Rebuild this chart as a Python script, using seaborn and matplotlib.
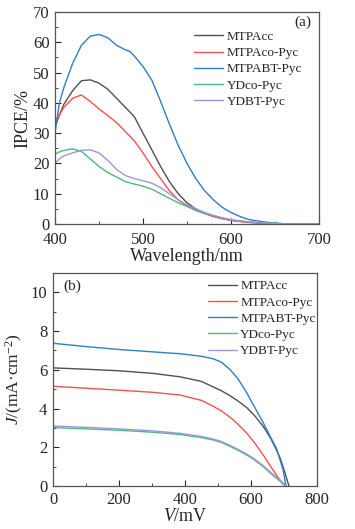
import numpy as np
import pandas as pd
import seaborn as sns
import matplotlib.pyplot as plt
from matplotlib.ticker import MultipleLocator

names = ['MTPAcc', 'MTPAco-Pyc', 'MTPABT-Pyc', 'YDco-Pyc', 'YDBT-Pyc']
colors = ['#505050', '#f0524f', '#2e7fc6', '#4cbb7a', '#a095d6']

# (a) IPCE spectra
wl = [400, 405, 410, 420, 430, 440, 450, 460, 470, 480, 485, 490, 500, 510, 520, 530, 540,
      550, 560, 570, 580, 590, 600, 610, 620, 630, 640, 650, 660, 670, 680, 690, 700]
ipce_mtpacc = [32, 36, 39.5, 44, 47.3, 47.6, 46.5, 44.5, 41.5, 38.5, 37, 35.5, 30, 24.5, 19, 14, 10,
               7, 5, 3.5, 2.5, 1.8, 1.2, 0.9, 0.6, 0.4, 0.2, 0.1, 0.05, 0, 0, 0, 0]
ipce_mtpaco = [33, 36, 38.5, 41.5, 42.6, 40.5, 38, 35.8, 33.5, 30.5, 29, 27.5, 23.5, 19, 15, 11, 8,
               6, 4.5, 3.5, 2.5, 1.8, 1.2, 0.8, 0.5, 0.3, 0.2, 0.1, 0, 0, 0, 0, 0]
ipce_mtpabt = [30, 40, 45, 53, 59, 62, 62.6, 61.5, 59, 57.5, 57, 55.5, 52, 47.5, 40.5, 33, 26,
               20, 15, 11, 8, 5.5, 3.8, 2.5, 1.5, 1, 0.6, 0.3, 0.1, 0, 0, 0, 0]
ipce_ydco = [23, 23.8, 24.3, 24.8, 24, 21.5, 19, 17, 15.5, 14, 13.6, 13.2, 12.5, 11.5, 10, 8.5, 7,
             5.8, 4.5, 3.5, 2.8, 2, 1.4, 1, 0.7, 0.5, 0.3, 0.2, 0.1, 0, 0, 0, 0]
ipce_ydbt = [20, 21.5, 22.5, 23.5, 24.3, 24.5, 23.5, 21, 18, 16, 15.5, 15, 14.3, 13.5, 12, 10, 8,
             6.3, 5, 3.8, 2.8, 2, 1.4, 1, 0.7, 0.5, 0.3, 0.2, 0.1, 0, 0, 0, 0]

# (b) J-V curves
v = [0, 100, 200, 300, 385, 450, 485, 510, 536, 560, 587, 610, 637, 660, 677, 688, 697, 706, 715]
j_mtpacc = [6.1, 6.03, 5.95, 5.82, 5.64, 5.4, 5.12, 4.92, 4.67, 4.4, 4.05, 3.65, 3.08, 2.45, 1.87, 1.45, 1.0, 0.5, 0]
j_mtpaco = [5.15, 5.05, 4.95, 4.84, 4.7, 4.42, 4.12, 3.88, 3.56, 3.2, 2.73, 2.25, 1.6, 1.0, 0.57, 0.3, 0.1, 0, np.nan]
j_mtpabt = [7.37, 7.2, 7.05, 6.93, 6.83, 6.7, 6.57, 6.4, 6.02, 5.55, 4.82, 4.1, 3.27, 2.5, 1.95, 1.35, 0.85, 0, np.nan]
j_ydco = [3.02, 2.95, 2.88, 2.78, 2.66, 2.5, 2.38, 2.25, 2.05, 1.85, 1.6, 1.35, 1.0, 0.65, 0.4, 0.25, 0.12, 0, np.nan]
j_ydbt = [3.1, 3.03, 2.95, 2.85, 2.72, 2.56, 2.43, 2.3, 2.1, 1.9, 1.65, 1.4, 1.05, 0.7, 0.45, 0.3, 0.15, 0, np.nan]

df_a = pd.DataFrame({'x': wl * 5,
                     'y': ipce_mtpacc + ipce_mtpaco + ipce_mtpabt + ipce_ydco + ipce_ydbt,
                     'dye': np.repeat(names, len(wl))})
df_b = pd.DataFrame({'x': v * 5,
                     'y': j_mtpacc + j_mtpaco + j_mtpabt + j_ydco + j_ydbt,
                     'dye': np.repeat(names, len(v))}).dropna()

sns.set_style('ticks')
plt.rcParams['font.family'] = ['Liberation Serif', 'DejaVu Serif']
plt.rcParams['mathtext.fontset'] = 'custom'
plt.rcParams['mathtext.it'] = 'Liberation Serif:italic'
plt.rcParams['mathtext.rm'] = 'Liberation Serif'
plt.rcParams['xtick.direction'] = 'in'
plt.rcParams['ytick.direction'] = 'in'

fig = plt.figure(figsize=(3.55, 5.29), dpi=100)
ax1 = fig.add_axes([55 / 355, 1 - 224 / 529, 264 / 355, 212 / 529])
ax2 = fig.add_axes([53 / 355, 1 - 486 / 529, 264 / 355, 213 / 529])
pal = dict(zip(names, colors))

sns.lineplot(data=df_a, x='x', y='y', hue='dye', palette=pal, ax=ax1, lw=1.0)
sns.lineplot(data=df_b, x='x', y='y', hue='dye', palette=pal, ax=ax2, lw=1.0)

ax1.set_xlim(400, 700)
ax1.set_ylim(0, 70)
ax1.xaxis.set_major_locator(MultipleLocator(100))
ax1.xaxis.set_minor_locator(MultipleLocator(50))
ax1.yaxis.set_major_locator(MultipleLocator(10))
ax1.yaxis.set_minor_locator(MultipleLocator(5))
ax1.set_xlabel('Wavelength/nm', fontsize=13, labelpad=0)
ax1.set_ylabel('IPCE/%', fontsize=13, labelpad=1)
ax1.text(0.97, 0.985, '(a)', transform=ax1.transAxes, ha='right', va='top', fontsize=11)

ax2.set_xlim(0, 800)
ax2.set_ylim(0, 11)
ax2.xaxis.set_major_locator(MultipleLocator(200))
ax2.xaxis.set_minor_locator(MultipleLocator(100))
ax2.yaxis.set_major_locator(MultipleLocator(2))
ax2.yaxis.set_minor_locator(MultipleLocator(1))
ax2.set_xlabel('$V$/mV', fontsize=13, labelpad=0)
ax2.set_ylabel('$J$/(mA·cm$^{-2}$)', fontsize=12.5, labelpad=4)
ax2.text(0.04, 0.97, '(b)', transform=ax2.transAxes, ha='left', va='top', fontsize=11)

for ax in (ax1, ax2):
    ax.tick_params(which='major', length=4, width=0.8, labelsize=12)
    ax.tick_params(axis='y', pad=4)
    ax.tick_params(axis='x', pad=4)
    ax.tick_params(which='minor', length=2, width=0.6)
    for s in ax.spines.values():
        s.set_color('#555555')
        s.set_linewidth(0.9)
    ax.legend(frameon=False, fontsize=9.5, handlelength=2.2, handletextpad=0.25,
              labelspacing=0.3, loc='upper right', borderaxespad=0.3)

# keep the "0" and "400" labels of (a) apart
ax1.tick_params(axis='x', pad=6)
ax1.get_legend().set_bbox_to_anchor((0.97, 0.955))
ax2.get_legend().set_bbox_to_anchor((1.03, 1.01))

fig.savefig('out.png', dpi=100)
